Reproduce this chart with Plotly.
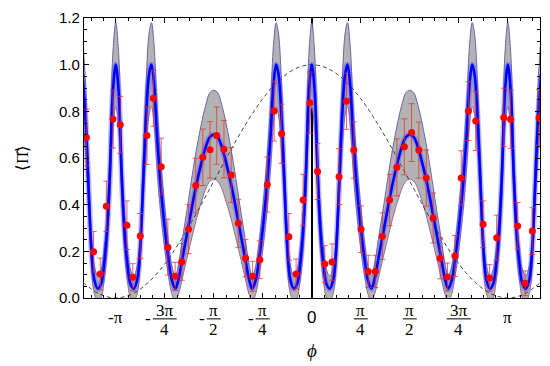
import numpy as np
import plotly.graph_objects as go

PI = np.pi

# ---------------- data (phi in units of pi) ----------------
curve_phi = [-1.17, -1.155, -1.14, -1.125, -1.11, -1.092, -1.075, -1.06, -1.045, -1.03, -1.015,
             -1.0, -0.985, -0.97, -0.955, -0.94, -0.925, -0.908, -0.89, -0.875, -0.86, -0.845, -0.83,
             -0.818, -0.805, -0.79, -0.775, -0.76, -0.745, -0.73, -0.715, -0.696, -0.68, -0.66, -0.64,
             -0.62, -0.60, -0.58, -0.56, -0.54, -0.52, -0.50, -0.48, -0.46, -0.44, -0.42, -0.40, -0.38,
             -0.36, -0.34, -0.32, -0.304, -0.285, -0.27, -0.255, -0.24, -0.225, -0.21, -0.195, -0.182,
             -0.17, -0.155, -0.14, -0.125, -0.11, -0.092, -0.075, -0.06, -0.045, -0.03, -0.015,
             0.0, 0.015, 0.03, 0.045, 0.06, 0.075, 0.092, 0.11, 0.125, 0.14, 0.155, 0.17, 0.182,
             0.195, 0.21, 0.225, 0.24, 0.255, 0.27, 0.285, 0.304, 0.32, 0.34, 0.36, 0.38, 0.40, 0.42,
             0.44, 0.46, 0.48, 0.50, 0.52, 0.54, 0.56, 0.58, 0.60, 0.62, 0.64, 0.66, 0.68, 0.696,
             0.715, 0.73, 0.745, 0.76, 0.775, 0.79, 0.805, 0.818, 0.83, 0.845, 0.86, 0.875, 0.89,
             0.908, 0.925, 0.94, 0.955, 0.97, 0.985, 1.0, 1.015, 1.03, 1.045, 1.06, 1.075, 1.092,
             1.11, 1.125, 1.14, 1.155, 1.17]
curve_val = [0.96, 0.78, 0.50, 0.22, 0.08, 0.04, 0.06, 0.14, 0.28, 0.53, 0.88,
             1.00, 0.88, 0.53, 0.28, 0.14, 0.06, 0.04, 0.08, 0.22, 0.50, 0.78, 0.96,
             1.00, 0.92, 0.70, 0.52, 0.38, 0.26, 0.16, 0.08, 0.04, 0.08, 0.17, 0.26,
             0.35, 0.44, 0.52, 0.59, 0.65, 0.69, 0.70, 0.69, 0.65, 0.59, 0.52, 0.44, 0.35,
             0.26, 0.17, 0.08, 0.04, 0.08, 0.16, 0.26, 0.38, 0.52, 0.70, 0.92, 1.00,
             0.96, 0.78, 0.50, 0.22, 0.08, 0.04, 0.06, 0.14, 0.28, 0.53, 0.88,
             1.00, 0.88, 0.53, 0.28, 0.14, 0.06, 0.04, 0.08, 0.22, 0.50, 0.78, 0.96, 1.00,
             0.92, 0.70, 0.52, 0.38, 0.26, 0.16, 0.08, 0.04, 0.08, 0.17, 0.26, 0.35, 0.44, 0.52,
             0.59, 0.65, 0.69, 0.70, 0.69, 0.65, 0.59, 0.52, 0.44, 0.35, 0.26, 0.17, 0.08, 0.04,
             0.08, 0.16, 0.26, 0.38, 0.52, 0.70, 0.92, 1.00, 0.96, 0.78, 0.50, 0.22, 0.08,
             0.04, 0.06, 0.14, 0.28, 0.53, 0.88, 1.00, 0.88, 0.53, 0.28, 0.14, 0.06, 0.04,
             0.08, 0.22, 0.50, 0.78, 0.96]
band_half = [0.175, 0.15, 0.115, 0.08, 0.06, 0.055, 0.06, 0.07, 0.09, 0.12, 0.165,
             0.18, 0.165, 0.12, 0.09, 0.07, 0.06, 0.055, 0.06, 0.08, 0.115, 0.15, 0.175,
             0.18, 0.17, 0.14, 0.12, 0.10, 0.085, 0.07, 0.06, 0.055, 0.065, 0.085, 0.10,
             0.12, 0.14, 0.155, 0.17, 0.18, 0.19, 0.19, 0.19, 0.18, 0.17, 0.155, 0.14, 0.12,
             0.10, 0.085, 0.065, 0.055, 0.06, 0.07, 0.085, 0.10, 0.12, 0.14, 0.17, 0.18,
             0.175, 0.15, 0.115, 0.08, 0.06, 0.055, 0.06, 0.07, 0.09, 0.12, 0.165,
             0.18, 0.165, 0.12, 0.09, 0.07, 0.06, 0.055, 0.06, 0.08, 0.115, 0.15, 0.175, 0.18,
             0.17, 0.14, 0.12, 0.10, 0.085, 0.07, 0.06, 0.055, 0.065, 0.085, 0.10, 0.12, 0.14, 0.155,
             0.17, 0.18, 0.19, 0.19, 0.19, 0.18, 0.17, 0.155, 0.14, 0.12, 0.10, 0.085, 0.065, 0.055,
             0.06, 0.07, 0.085, 0.10, 0.12, 0.14, 0.17, 0.18, 0.175, 0.15, 0.115, 0.08, 0.06,
             0.055, 0.06, 0.07, 0.09, 0.12, 0.165, 0.18, 0.165, 0.12, 0.09, 0.07, 0.06, 0.055,
             0.06, 0.08, 0.115, 0.15, 0.175]

classical_phi = [-1.1667, -1.0833, -1.0, -0.9167, -0.8333, -0.75, -0.6667, -0.5833, -0.5,
                 -0.4167, -0.3333, -0.25, -0.1667, -0.0833, 0.0, 0.0833, 0.1667, 0.25, 0.3333,
                 0.4167, 0.5, 0.5833, 0.6667, 0.75, 0.8333, 0.9167, 1.0, 1.0833, 1.1667]
classical_val = [0.067, 0.017, 0.0, 0.017, 0.067, 0.146, 0.25, 0.371, 0.5,
                 0.629, 0.75, 0.854, 0.933, 0.983, 1.0, 0.983, 0.933, 0.854, 0.75,
                 0.629, 0.5, 0.371, 0.25, 0.146, 0.067, 0.017, 0.0, 0.017, 0.067]

data_phi = [-1.150, -1.113, -1.079, -1.048, -1.014, -0.977, -0.943, -0.913, -0.875, -0.841,
            -0.808, -0.768, -0.734, -0.697, -0.663, -0.629, -0.592, -0.556, -0.519, -0.485,
            -0.448, -0.411, -0.375, -0.338, -0.302, -0.265, -0.227, -0.192, -0.154, -0.117,
            -0.080, -0.044, -0.010, 0.029, 0.066, 0.103, 0.139, 0.177, 0.214, 0.251,
            0.288, 0.324, 0.360, 0.397, 0.434, 0.472, 0.509, 0.546, 0.584, 0.619,
            0.655, 0.692, 0.730, 0.762, 0.799, 0.836, 0.874, 0.907, 0.943, 0.979,
            1.014, 1.050, 1.088, 1.125, 1.159]
data_val = [0.688, 0.198, 0.103, 0.393, 0.767, 0.742, 0.312, 0.089, 0.266, 0.696,
            0.856, 0.563, 0.218, 0.093, 0.155, 0.295, 0.482, 0.603, 0.635, 0.696,
            0.638, 0.527, 0.320, 0.171, 0.093, 0.164, 0.486, 0.801, 0.704, 0.262,
            0.103, 0.420, 0.837, 0.542, 0.146, 0.154, 0.520, 0.843, 0.634, 0.295,
            0.114, 0.114, 0.265, 0.420, 0.560, 0.648, 0.709, 0.634, 0.514, 0.343,
            0.170, 0.090, 0.180, 0.514, 0.801, 0.759, 0.316, 0.086, 0.258, 0.774,
            0.766, 0.309, 0.063, 0.287, 0.773]
data_err = [0.121, 0.087, 0.068, 0.108, 0.124, 0.122, 0.104, 0.058, 0.096, 0.124,
            0.120, 0.122, 0.120, 0.060, 0.079, 0.105, 0.117, 0.121, 0.121, 0.123,
            0.123, 0.118, 0.103, 0.080, 0.064, 0.081, 0.118, 0.128, 0.127, 0.100,
            0.064, 0.110, 0.131, 0.120, 0.078, 0.078, 0.120, 0.120, 0.121, 0.100,
            0.069, 0.069, 0.100, 0.110, 0.122, 0.120, 0.124, 0.120, 0.120, 0.107,
            0.088, 0.060, 0.088, 0.117, 0.126, 0.127, 0.100, 0.057, 0.097, 0.125,
            0.125, 0.100, 0.053, 0.100, 0.120]

tick_pos = [-1, -0.75, -0.5, -0.25, 0, 0.25, 0.5, 0.75, 1]
tick_num = ["-π", "3π", "π", "π", "0", "π", "π", "3π", "π"]
tick_den = ["", "4", "2", "4", "", "4", "2", "4", ""]
tick_sign = ["", "-", "-", "-", "", "", "", "", ""]
y_ticks = [0.0, 0.2, 0.4, 0.6, 0.8, 1.0, 1.2]

# ---------------- build ----------------
cx = np.array(curve_phi) * PI
cv = np.array(curve_val)
hw = np.array(band_half)

fig = go.Figure()
fig.add_trace(go.Scatter(x=cx, y=cv + hw, mode="lines", line=dict(color="rgba(90,90,170,0.9)", width=1, shape="spline"),
                         hoverinfo="skip", showlegend=False))
fig.add_trace(go.Scatter(x=cx, y=cv - hw, mode="lines", line=dict(color="rgba(150,90,150,0.9)", width=1, shape="spline"),
                         fill="tonexty", fillcolor="#b3b3b3", hoverinfo="skip", showlegend=False))
fig.add_trace(go.Scatter(x=np.array(classical_phi) * PI, y=classical_val, mode="lines",
                         line=dict(color="#333333", width=0.9, dash="4px,3px", shape="spline"), showlegend=False))
fig.add_trace(go.Scatter(x=cx, y=cv, mode="lines", line=dict(color="rgba(80,80,255,0.35)", width=6, shape="spline"),
                         showlegend=False))
fig.add_trace(go.Scatter(x=cx, y=cv, mode="lines", line=dict(color="#0000ff", width=2.6, shape="spline"),
                         showlegend=False))
fig.add_trace(go.Scatter(x=np.array(data_phi) * PI, y=data_val, mode="markers",
                         marker=dict(color="#ff0000", size=7),
                         error_y=dict(type="data", array=data_err, color="rgba(225,50,50,0.75)", thickness=1, width=3),
                         showlegend=False))

axis_common = dict(showline=True, linecolor="black", linewidth=1.2, mirror="ticks", ticks="inside",
                   tickcolor="black", showgrid=False)
fig.update_xaxes(range=[-1.162 * PI, 1.164 * PI], tickmode="array", tickvals=[t * PI for t in tick_pos],
                 showticklabels=False, ticklen=5, tickwidth=1.2, zeroline=True, zerolinecolor="black",
                 zerolinewidth=1.5,
                 minor=dict(tick0=0, dtick=PI / 16, ticklen=3, tickcolor="black", ticks="inside"),
                 **axis_common)
fig.update_yaxes(range=[0, 1.2], tickmode="array", tickvals=y_ticks, tickformat=".1f", ticklen=5,
                 zeroline=False, tickfont=dict(family="Liberation Sans", size=15, color="black"),
                 minor=dict(dtick=0.05, ticklen=3, tickcolor="black", ticks="inside"),
                 **axis_common)

serif = "Liberation Serif"
for pos, num, den, sign in zip(tick_pos, tick_num, tick_den, tick_sign):
    xv = pos * PI
    if den == "":
        fam = "Liberation Sans" if num == "0" else serif
        fig.add_annotation(x=xv, y=-0.069, xref="x", yref="paper", text=num, showarrow=False,
                           font=dict(family=fam, size=17, color="black"), yanchor="middle")
    else:
        fig.add_annotation(x=xv, y=-0.044, xref="x", yref="paper", text=num, showarrow=False,
                           font=dict(family=serif, size=17, color="black"), yanchor="middle")
        fig.add_annotation(x=xv, y=-0.112, xref="x", yref="paper", text=den, showarrow=False,
                           font=dict(family=serif, size=17, color="black"), yanchor="middle")
        half = 12 if num == "3π" else 7
        fig.add_shape(type="line", xref="x", yref="paper", xsizemode="pixel", xanchor=xv,
                      x0=-half, x1=half, y0=-0.0745, y1=-0.0745, line=dict(color="black", width=1))
        if sign:
            fig.add_annotation(x=xv, y=-0.0745, xref="x", yref="paper", text=sign, showarrow=False,
                               xshift=-(half + 5), font=dict(family=serif, size=17, color="black"),
                               yanchor="middle")

fig.add_annotation(x=0, y=-0.186, xref="x", yref="paper", text="<i>ϕ</i>", showarrow=False,
                   font=dict(family=serif, size=19, color="black"), yanchor="middle")
fig.add_annotation(x=-0.136, y=0.5, xref="paper", yref="paper", text="⟨Π̂⟩", showarrow=False, textangle=-90,
                   font=dict(family=serif, size=17, color="black"), xanchor="center", yanchor="middle")

fig.update_layout(width=550, height=366, margin=dict(l=84, r=9, t=16, b=68),
                  paper_bgcolor="white", plot_bgcolor="white", showlegend=False)

fig.write_html("out.html", config={"displayModeBar": False},
               post_script="document.body.style.margin='0';document.body.style.overflow='hidden';")
